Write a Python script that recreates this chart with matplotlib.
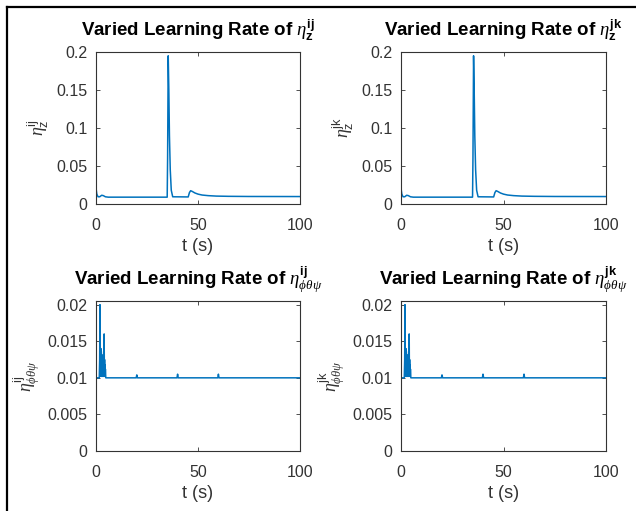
import matplotlib
matplotlib.use("Agg")
import matplotlib.pyplot as plt
from matplotlib.lines import Line2D

plt.rcParams['font.family'] = ['Liberation Sans', 'DejaVu Sans']
plt.rcParams['mathtext.fontset'] = 'custom'
plt.rcParams['mathtext.rm'] = 'Liberation Sans'
plt.rcParams['mathtext.bf'] = 'Liberation Sans:bold'
plt.rcParams['mathtext.it'] = 'Liberation Serif:italic'

# Learning rate of the z channel (ij and jk share the same trace)
t_z = [0, 0.4, 1.0, 1.8, 2.8, 3.6, 4.6, 6, 34.9, 35.1, 35.4, 35.7, 36.0, 36.4, 36.9, 37.6, 45.2,
       45.8, 46.4, 47.2, 48.5, 50, 52, 55, 59, 65, 75, 100]
eta_z_ij = [0.021, 0.013, 0.0095, 0.0095, 0.0115, 0.011, 0.0095, 0.009, 0.009, 0.06, 0.195, 0.15,
            0.09, 0.045, 0.018, 0.0095, 0.0093, 0.015, 0.0175, 0.0165, 0.0145, 0.013, 0.0118,
            0.011, 0.0104, 0.0101, 0.0099, 0.0098]
eta_z_jk = list(eta_z_ij)

# Learning rate of the attitude channel (phi, theta, psi)
t_att = [0, 1.6, 1.8, 1.95, 2.05, 2.2, 2.3, 2.4, 2.5, 2.6, 2.7, 2.8, 2.9, 3.0, 3.1, 3.2, 3.3,
         3.4, 3.5, 3.6, 3.7, 3.8, 3.9, 4.0, 4.1, 4.2, 4.3, 4.4, 4.5, 4.6, 4.8,
         19.7, 20.0, 20.3, 39.7, 40.0, 40.3, 59.7, 60.0, 60.3, 100]
eta_att_ij = [0.010, 0.010, 0.0125, 0.020, 0.0102, 0.0138, 0.0102, 0.014, 0.0102, 0.0136, 0.0102,
              0.0132, 0.0102, 0.013, 0.0102, 0.0128, 0.0102, 0.0126, 0.0102, 0.0124, 0.0102,
              0.0122, 0.0102, 0.016, 0.0102, 0.0125, 0.0102, 0.0118, 0.0102, 0.0112, 0.010,
              0.010, 0.0104, 0.010, 0.010, 0.0105, 0.010, 0.010, 0.0105, 0.010, 0.010]
eta_att_jk = list(eta_att_ij)

x_ticks = [0, 50, 100]
z_ticks = [0, 0.05, 0.1, 0.15, 0.2]
z_tick_labels = ['0', '0.05', '0.1', '0.15', '0.2']
att_ticks = [0, 0.005, 0.01, 0.015, 0.02]
att_tick_labels = ['0', '0.005', '0.01', '0.015', '0.02']

titles = [r'Varied Learning Rate of $\eta^{\mathbf{ij}}_{\mathbf{z}}$',
          r'Varied Learning Rate of $\eta^{\mathbf{jk}}_{\mathbf{z}}$',
          r'Varied Learning Rate of $\eta^{\mathbf{ij}}_{\phi\theta\psi}$',
          r'Varied Learning Rate of $\eta^{\mathbf{jk}}_{\phi\theta\psi}$']
ylabels = [r'$\eta^{\mathrm{ij}}_{\mathrm{z}}$', r'$\eta^{\mathrm{jk}}_{\mathrm{z}}$',
           r'$\eta^{\mathrm{ij}}_{\phi\theta\psi}$', r'$\eta^{\mathrm{jk}}_{\phi\theta\psi}$']

W, H = 636, 511
fig = plt.figure(figsize=(W / 100, H / 100), dpi=100)

def box(l, t, r, b):
    return [l / W, 1 - b / H, (r - l) / W, (b - t) / H]

positions = [box(96, 52, 300, 204), box(401, 52, 606, 204),
             box(96, 301, 300, 451), box(401, 301, 606, 451)]
series = [(t_z, eta_z_ij), (t_z, eta_z_jk), (t_att, eta_att_ij), (t_att, eta_att_jk)]
yt = [(z_ticks, z_tick_labels, 0.2)] * 2 + [(att_ticks, att_tick_labels, 0.0205)] * 2

blue = '#0072BD'
grey = '#333333'
for i in range(4):
    ax = fig.add_axes(positions[i])
    tx, vy = series[i]
    ax.plot(tx, vy, color=blue, lw=1.1)
    ticks, labels, top = yt[i]
    ax.set_xlim(0, 100)
    ax.set_ylim(0, top)
    ax.set_xticks(x_ticks)
    ax.set_yticks(ticks)
    ax.set_yticklabels(labels)
    ax.tick_params(direction='in', length=3, width=0.6, colors=grey,
                   labelsize=11.5, top=True, right=True, pad=6)
    ax.tick_params(axis='x', pad=10)
    for s in ax.spines.values():
        s.set_color(grey)
        s.set_linewidth(0.8)
    ax.set_title(titles[i], fontsize=13.5, fontweight='bold', color='black', pad=11)
    ax.set_ylabel(ylabels[i], fontsize=13, color=grey, labelpad=4)
    ax.set_xlabel('t (s)', fontsize=13, color=grey, labelpad=4)

# Outer frame lines on the left and top edges
fig.add_artist(Line2D([7 / W, 7 / W], [0, 1 - 7 / H], color='black', lw=1.6,
                      transform=fig.transFigure))
fig.add_artist(Line2D([7 / W, 1], [1 - 7 / H, 1 - 7 / H], color='black', lw=1.6,
                      transform=fig.transFigure))

fig.savefig('out.png', dpi=100)
